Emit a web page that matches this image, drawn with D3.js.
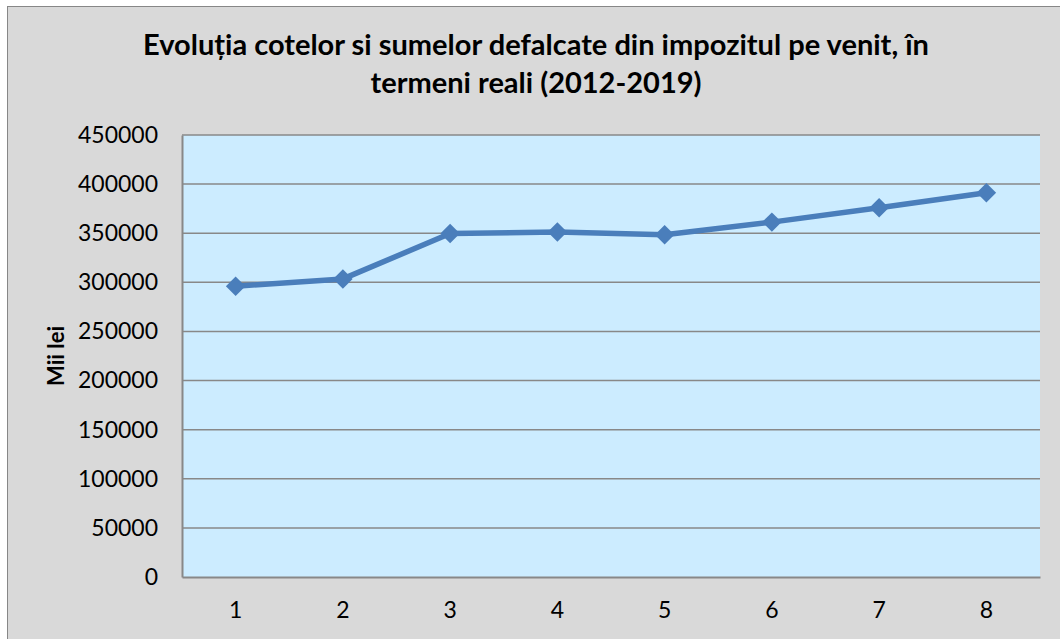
<!DOCTYPE html>
<head>
<meta charset="utf-8">
<title>Evoluția cotelor si sumelor defalcate</title>
<script type="text/javascript" src="https://d3js.org/d3.v7.min.js"></script>
<style>
  body { margin: 0; background: #fff; }
  text { font-family: Lato, "Open Sans", sans-serif; fill: #000; }
</style>
</head>

<body>
<div id="container"></div>
<script>

// data
const years = [1, 2, 3, 4, 5, 6, 7, 8]
const values = [296000, 303500, 349700, 351200, 348400, 361300, 376000, 391300]
const yTicks = [0, 50000, 100000, 150000, 200000, 250000, 300000, 350000, 400000, 450000]
const titleLines = ["Evoluția cotelor si sumelor defalcate din impozitul pe venit, în",
                    "termeni reali (2012-2019)"]
const yLabel = "Mii lei"

function chart() {
  const width = 1060; const height = 639;
  const margin = ({top: 135, right: 20, bottom: 62, left: 182})
  const plotRight = 1040

  const svg = d3.select("div#container").append("svg")
      .attr("width", width).attr("height", height)

  // chart area (runs off the right and bottom of the picture)
  svg.append("rect")
    .attr("x", 7.5).attr("y", 6.5).attr("width", width + 10).attr("height", height + 10)
    .attr("fill", "#d9d9d9").attr("stroke", "#878787").attr("stroke-width", 1)

  const xScale = d3.scaleBand().domain(years)
    .range([margin.left, plotRight])
  const yScale = d3.scaleLinear()
    .domain([0, 450000])
    .range([height - margin.bottom, margin.top])

  // plot area
  svg.append("rect")
    .attr("x", margin.left).attr("y", margin.top)
    .attr("width", plotRight - margin.left).attr("height", yScale(0) - margin.top)
    .attr("fill", "#ccecff")

  // gridlines
  svg.append("g")
    .selectAll("line").data(yTicks.filter(d => d > 0))
    .join("line")
      .attr("x1", margin.left).attr("x2", plotRight)
      .attr("y1", d => yScale(d)).attr("y2", d => yScale(d))
      .attr("stroke", "#888").attr("stroke-width", 1.5)

  const yAxis = g => g
    .attr("transform", `translate(${margin.left},0)`)
    .call(d3.axisLeft(yScale).tickValues(yTicks).tickSize(0).tickPadding(24)
        .tickFormat(d3.format("d")))
    .call(g => g.select(".domain").attr("stroke", "#888").attr("stroke-width", 2))
    .call(g => g.selectAll("text").attr("font-size", 23).attr("font-family", null))

  const xAxis = g => g
    .attr("transform", `translate(0,${yScale(0)})`)
    .call(d3.axisBottom(xScale).tickSize(0).tickPadding(25))
    .call(g => g.select(".domain").attr("stroke", "#888").attr("stroke-width", 2))
    .call(g => g.selectAll("text").attr("font-size", 23).attr("font-family", null))

  svg.append("g").call(yAxis)
  svg.append("g").call(xAxis)

  // titles
  svg.append("g").selectAll("text").data(titleLines)
    .join("text")
      .attr("x", 536).attr("y", (d, i) => 55 + i * 38)
      .attr("text-anchor", "middle")
      .attr("font-size", 29).attr("font-weight", "bold")
      .text(d => d)

  svg.append("text")
    .attr("transform", `translate(64,${(margin.top + yScale(0)) / 2}) rotate(-90)`)
    .attr("text-anchor", "middle")
    .attr("font-size", 22).attr("font-weight", "bold")
    .text(yLabel)

  // series
  const cx = d => xScale(d) + xScale.bandwidth() / 2
  const line = d3.line()
    .x((d, i) => cx(years[i]))
    .y(d => yScale(d))

  svg.append("path")
    .attr("d", line(values))
    .attr("fill", "none").attr("stroke", "#4a7ebb")
    .attr("stroke-width", 5.5).attr("stroke-linejoin", "round")

  svg.append("g").selectAll("path").data(values)
    .join("path")
      .attr("d", d3.symbol(d3.symbolSquare, 190))
      .attr("transform", (d, i) => `translate(${cx(years[i])},${yScale(d)}) rotate(45)`)
      .attr("fill", "#4a7ebb")

  return svg.node()
}

chart()

</script>
</body>
